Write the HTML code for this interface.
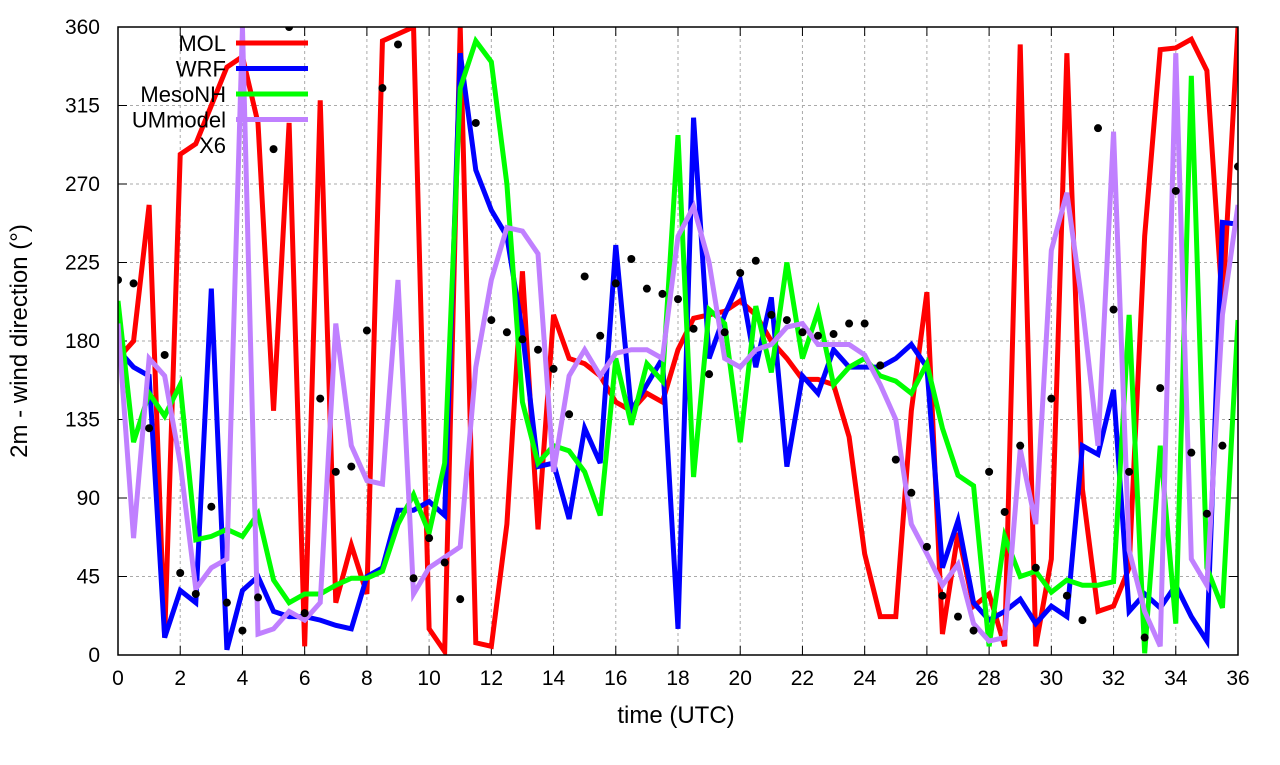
<!DOCTYPE html>
<html><head><meta charset="utf-8"><style>
body{margin:0;background:#fff;}
svg{font-family:"Liberation Sans",sans-serif;}
</style></head><body>
<svg id="chart" width="1280" height="760" xmlns="http://www.w3.org/2000/svg">
<defs><clipPath id="clip"><rect x="118" y="27" width="1120" height="628"/></clipPath></defs>
<g id="grid"></g>
<g id="axes"></g>
<g id="series" clip-path="url(#clip)"></g>
<g id="legend"></g>
<rect x="118" y="27" width="1120" height="628" fill="none" stroke="#000" stroke-width="1.5"/>
<text x="676" y="723" font-size="24" text-anchor="middle">time (UTC)</text>
<text transform="translate(27,341) rotate(-90)" font-size="24" text-anchor="middle">2m - wind direction (°)</text>
</svg>
<script>
const xTicks=[0,2,4,6,8,10,12,14,16,18,20,22,24,26,28,30,32,34,36];
const yTicks=[0,45,90,135,180,225,270,315,360];
const times=[];for(let i=0;i<=72;i++)times.push(i*0.5);
const mol=[170,180,258,10,287,293,315,337,343,305,140,305,5,318,30,63,35,352,356,360,15,2,360,7,5,75,220,72,195,170,167,160,145,140,150,145,175,193,195,197,203,195,180,170,158,158,155,125,58,22,22,140,208,12,70,28,35,5,350,5,55,345,95,25,28,50,240,347,348,353,335,200,360];
const wrf=[175,165,160,10,37,30,210,3,37,45,25,22,22,20,17,15,45,50,83,83,88,80,345,278,255,240,185,108,110,78,130,110,235,140,155,170,15,308,170,195,215,165,205,108,160,150,175,165,165,165,170,178,165,50,77,30,20,25,32,18,28,22,120,115,152,25,35,27,40,22,8,248,247];
const mesonh=[203,122,150,137,155,66,68,72,68,81,43,30,35,35,40,44,44,48,75,92,70,110,325,352,340,270,145,110,120,117,105,80,170,132,167,157,298,102,198,190,122,200,162,225,170,197,155,165,170,160,157,150,167,130,103,97,5,68,45,48,36,43,40,40,42,195,1,120,18,332,50,27,192];
const ummodel=[190,67,170,160,110,38,50,55,360,12,15,25,20,30,190,120,100,98,215,35,50,56,62,165,215,245,243,230,105,160,175,160,173,175,175,170,240,257,225,170,165,175,178,188,190,178,178,178,172,155,135,75,58,40,52,18,8,10,118,75,232,265,200,120,300,60,25,5,345,55,40,195,258];
const x6=[215,213,130,172,47,35,85,30,14,33,290,360,24,147,105,108,186,325,350,44,67,53,32,305,192,185,181,175,164,138,217,183,213,227,210,207,204,187,161,185,219,226,195,192,185,183,184,190,190,166,112,93,62,34,22,14,105,82,120,50,147,34,20,302,198,105,10,153,266,116,81,120,280];
const NS="http://www.w3.org/2000/svg";
const X=v=>118+v/36*1120, Y=v=>655-v/360*628;
function mk(tag,attrs,parent){const e=document.createElementNS(NS,tag);for(const k in attrs)e.setAttribute(k,attrs[k]);parent.appendChild(e);return e;}
const grid=document.getElementById('grid'),axes=document.getElementById('axes'),ser=document.getElementById('series'),leg=document.getElementById('legend');
xTicks.forEach(t=>{
 if(t>0&&t<36){const l=mk('line',{x1:X(t),x2:X(t),y1:27,y2:655,stroke:'#aaa','stroke-dasharray':'3,3','stroke-width':1},grid);
 
 }
 const tk=mk('line',{x1:X(t),x2:X(t),y1:655,y2:646,stroke:'#000'},axes);
 
 
 const tk2=mk('line',{x1:X(t),x2:X(t),y1:27,y2:36,stroke:'#000'},axes);
 
 
 const tx=mk('text',{x:X(t),y:685,'font-size':21,'text-anchor':'middle'},axes);tx.textContent=t;
 
 
});
yTicks.forEach(t=>{
 if(t>0&&t<360){const l=mk('line',{x1:118,x2:1238,y1:Y(t),y2:Y(t),stroke:'#aaa','stroke-dasharray':'3,3','stroke-width':1},grid);
 
 }
 const tk=mk('line',{x1:118,x2:127,y1:Y(t),y2:Y(t),stroke:'#000'},axes);
 
 
 const tk2=mk('line',{x1:1229,x2:1238,y1:Y(t),y2:Y(t),stroke:'#000'},axes);
 
 
 const tx=mk('text',{x:100,y:Y(t)+7,'font-size':21,'text-anchor':'end'},axes);tx.textContent=t;
 
 
});
const lines=[['MOL',mol,'#ff0000'],['WRF',wrf,'#0000ff'],['MesoNH',mesonh,'#00ff00'],['UMmodel',ummodel,'#c080ff']];
lines.forEach(([name,d,c],k)=>{
 const p=mk('polyline',{points:d.map((v,i)=>X(times[i])+','+Y(v)).join(' '),fill:'none',stroke:c,'stroke-width':5,'stroke-linejoin':'miter'},ser);
 
 
});
x6.forEach((v,i)=>{
 const c=mk('circle',{cx:X(times[i]),cy:Y(v),r:4,fill:'#000'},ser);
 
 
});
const legItems=[['MOL','#ff0000'],['WRF','#0000ff'],['MesoNH','#00ff00'],['UMmodel','#c080ff'],['X6',null]];
legItems.forEach(([n,c],k)=>{
 const y=43+k*25.5;
 const t=mk('text',{x:226,y:y+8,'font-size':22,'text-anchor':'end'},leg);t.textContent=n;
 
 
 if(c){const l=mk('line',{x1:236,x2:308,y1:y,y2:y,stroke:c,'stroke-width':5},leg);
 
 }
});
</script>
</body></html>
